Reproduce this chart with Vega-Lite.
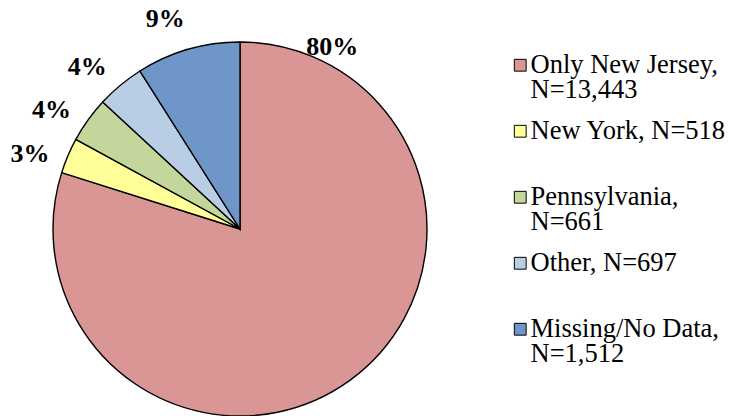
{
  "$schema": "https://vega.github.io/schema/vega-lite/v6.json",
  "width": 374,
  "height": 374,
  "autosize": {"type": "none"},
  "padding": {"left": 53, "top": 42, "right": 305, "bottom": 0},
  "background": "white",
  "config": {"view": {"stroke": null}, "style": {"guide-label": {"lineHeight": 25}}},
  "data": {
    "values": [
      {"category": "Only New Jersey", "line1": "Only New Jersey,", "line2": "N=13,443", "n": 13443, "pct": "80%", "order": 1},
      {"category": "New York", "line1": "New York, N=518", "line2": "", "n": 518, "pct": "3%", "order": 2},
      {"category": "Pennsylvania", "line1": "Pennsylvania,", "line2": "N=661", "n": 661, "pct": "4%", "order": 3},
      {"category": "Other", "line1": "Other, N=697", "line2": "", "n": 697, "pct": "4%", "order": 4},
      {"category": "Missing/No Data", "line1": "Missing/No Data,", "line2": "N=1,512", "n": 1512, "pct": "9%", "order": 5}
    ]
  },
  "encoding": {
    "theta": {"field": "n", "type": "quantitative", "stack": true},
    "order": {"field": "order", "type": "quantitative"}
  },
  "layer": [
    {
      "mark": {"type": "arc", "stroke": "black", "strokeWidth": 1.4},
      "encoding": {
        "color": {
          "field": "category",
          "type": "nominal",
          "sort": null,
          "scale": {
            "domain": ["Only New Jersey", "New York", "Pennsylvania", "Other", "Missing/No Data"],
            "range": ["#D99694", "#FFFF99", "#C3D69B", "#B9CDE5", "#6F96C9"]
          },
          "legend": {
            "title": null,
            "orient": "none",
            "legendX": 454,
            "legendY": 10,
            "symbolType": "square",
            "symbolSize": 140,
            "symbolStrokeColor": "black",
            "symbolStrokeWidth": 1,
            "symbolOpacity": 1,
            "labelFont": "Liberation Serif",
            "labelFontSize": 26.5,
            "labelColor": "black",
            "labelBaseline": "middle",
            "labelLimit": 400,
            "labelOffset": -3,
            "labelExpr": "datum.value === 'Only New Jersey' ? ['Only New Jersey,', 'N=13,443'] : datum.value === 'New York' ? ['New York, N=518', ''] : datum.value === 'Pennsylvania' ? ['Pennsylvania,', 'N=661'] : datum.value === 'Other' ? ['Other, N=697', ''] : ['Missing/No Data,', 'N=1,512']",
            "rowPadding": 14
          }
        }
      }
    },
    {
      "mark": {"type": "text", "radius": 223, "thetaOffset": -0.06, "font": "Liberation Serif", "fontSize": 26, "fontWeight": "bold", "color": "black"},
      "encoding": {
        "text": {
          "condition": {"test": "datum.category === 'Only New Jersey'", "value": ""},
          "field": "pct"
        }
      }
    },
    {
      "mark": {"type": "text", "radius": 204, "thetaOffset": -2.04, "font": "Liberation Serif", "fontSize": 26, "fontWeight": "bold", "color": "black"},
      "encoding": {
        "text": {
          "condition": {"test": "datum.category !== 'Only New Jersey'", "value": ""},
          "field": "pct"
        }
      }
    }
  ]
}
